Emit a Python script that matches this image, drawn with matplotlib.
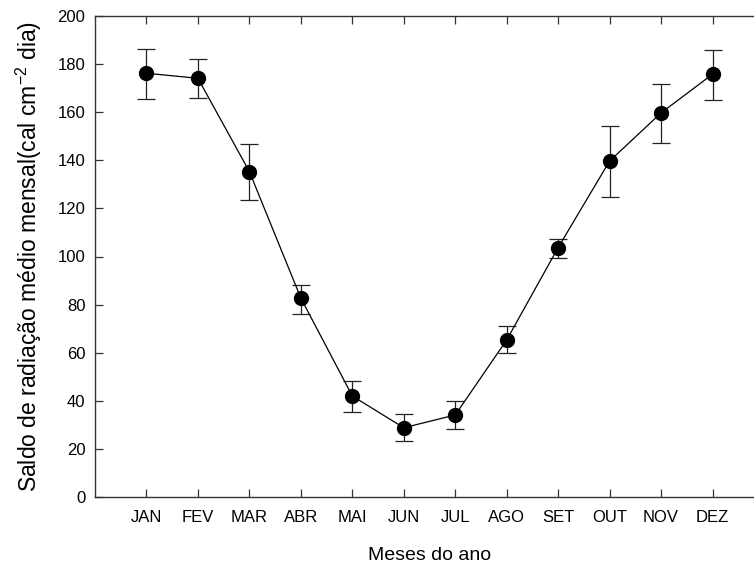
import matplotlib
matplotlib.use("Agg")
import matplotlib.pyplot as plt

plt.rcParams["font.family"] = ["Liberation Sans", "DejaVu Sans"]
plt.rcParams["mathtext.fontset"] = "custom"
plt.rcParams["mathtext.rm"] = "Liberation Sans"
plt.rcParams["mathtext.default"] = "regular"

months = ["JAN", "FEV", "MAR", "ABR", "MAI", "JUN",
          "JUL", "AGO", "SET", "OUT", "NOV", "DEZ"]
saldo = [176.2, 174.1, 135.3, 82.7, 42.0, 28.8,
         34.1, 65.3, 103.7, 139.7, 159.7, 175.8]
saldo_low = [165.5, 165.8, 123.5, 76.1, 35.2, 23.2,
             28.1, 59.9, 99.2, 124.7, 147.2, 165.2]
saldo_high = [186.3, 182.1, 146.9, 88.1, 48.4, 34.5,
              39.9, 71.1, 107.4, 154.3, 171.9, 185.8]
yticks = [0, 20, 40, 60, 80, 100, 120, 140, 160, 180, 200]

x = list(range(1, len(months) + 1))
err_lo = [m - lo for m, lo in zip(saldo, saldo_low)]
err_hi = [hi - m for m, hi in zip(saldo, saldo_high)]

fig = plt.figure(figsize=(7.54, 5.70), dpi=100)
ax = fig.add_axes([95 / 754, 73 / 570, 669 / 754, 481 / 570])

ax.errorbar(x, saldo, yerr=[err_lo, err_hi], fmt="o-", color="black",
            markersize=10, linewidth=0.9, elinewidth=0.9, ecolor="#222222",
            capsize=6.5, capthick=0.9)

ax.set_xlim(0, 13)
ax.set_ylim(0, 200)
ax.set_xticks(x)
ax.set_xticklabels(months)
ax.set_yticks(yticks)

ax.tick_params(axis="both", direction="in", length=6, width=0.9,
               labelsize=12, color="#333333", top=True)
ax.tick_params(axis="x", pad=9)
ax.tick_params(axis="y", pad=7)

for side in ["left", "bottom", "top"]:
    ax.spines[side].set_linewidth(1.0)
    ax.spines[side].set_color("#333333")
ax.spines["right"].set_visible(False)

ax.set_xlabel("Meses do ano", fontsize=14)
ax.xaxis.set_label_coords(0.5, -0.104)
ax.set_ylabel("Saldo de radiação médio mensal(cal cm$^{-2}$ dia)",
              fontsize=16.5)
ax.yaxis.set_label_coords(-0.076, 0.5)

fig.savefig("out.png", dpi=100)
